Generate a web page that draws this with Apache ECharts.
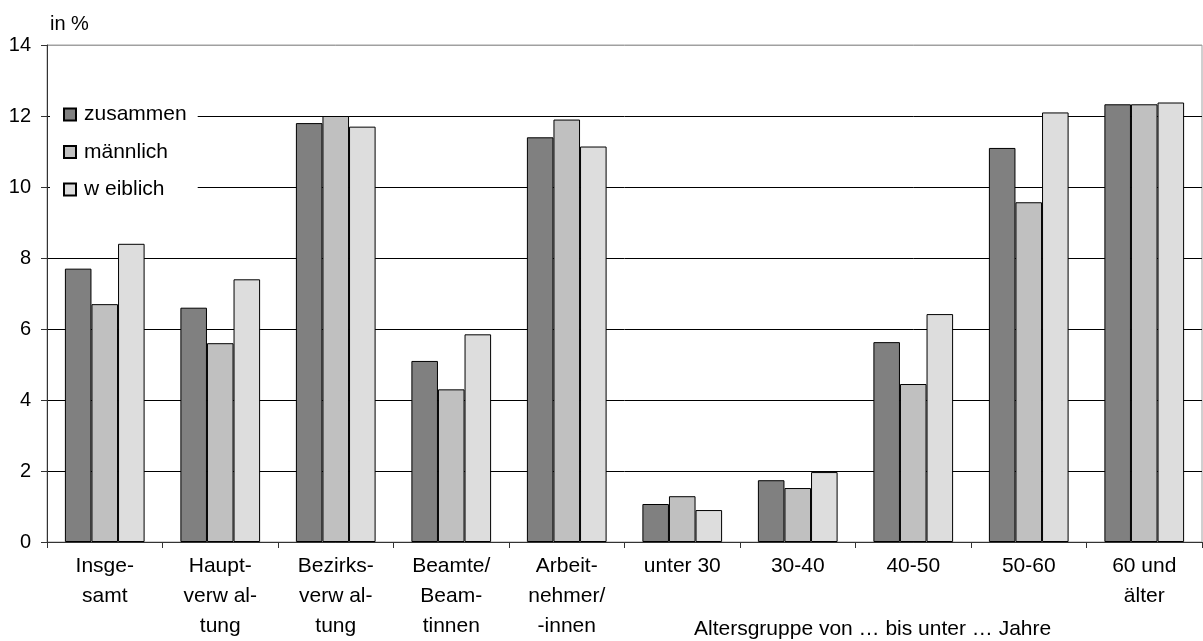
<!DOCTYPE html>
<html>
<head>
<meta charset="utf-8">
<script src="https://cdn.jsdelivr.net/npm/echarts@6/dist/echarts.min.js"></script>
<style>
html,body{margin:0;padding:0;background:#fff;}
#chart{width:1203px;height:641px;}
</style>
</head>
<body>
<div id="chart"></div>
<script>
var categories = ['Insge-\nsamt', 'Haupt-\nverw al-\ntung', 'Bezirks-\nverw al-\ntung', 'Beamte/\nBeam-\ntinnen', 'Arbeit-\nnehmer/\n-innen', 'unter 30', '30-40', '40-50', '50-60', '60 und\nälter'];
var seriesNames = ['zusammen', 'männlich', 'w eiblich'];
var zusammen = [7.7, 6.6, 11.8, 5.1, 11.4, 1.07, 1.74, 5.63, 11.1, 12.33];
var maennlich = [6.7, 5.6, 12.0, 4.3, 11.9, 1.29, 1.52, 4.45, 9.57, 12.33];
var weiblich = [8.4, 7.4, 11.7, 5.85, 11.14, 0.9, 1.97, 6.42, 12.1, 12.38];
var yTicks = [0, 2, 4, 6, 8, 10, 12, 14];
var unitLabel = 'in %';
var groupTitle = 'Altersgruppe von … bis unter … Jahre';

var colors = ['#808080', '#C0C0C0', '#DDDDDD'];
var values = [zusammen, maennlich, weiblich];
var font = 'Arial, "Liberation Sans", sans-serif';

var chart = echarts.init(document.getElementById('chart'), null, {renderer: 'canvas'});
chart.setOption({
  animation: false,
  backgroundColor: '#fff',
  grid: {left: 47, right: 1, top: 45, bottom: 98, show: true, borderColor: '#A0A0A0', borderWidth: 1, backgroundColor: 'transparent'},
  legend: {
    orient: 'vertical', left: 50, top: 99,
    padding: [5, 11, 5, 13],
    backgroundColor: '#fff',
    itemWidth: 12, itemHeight: 12, itemGap: 16.5,
    icon: 'rect',
    textStyle: {fontFamily: font, fontSize: 21, color: '#000', lineHeight: 21, padding: [0, 0, 0, 3]},
    data: seriesNames
  },
  xAxis: {
    type: 'category',
    data: categories,
    axisLine: {show: true, lineStyle: {color: '#333', width: 1}},
    axisTick: {show: true, length: 6, lineStyle: {color: '#333'}},
    axisLabel: {interval: 0, fontFamily: font, fontSize: 21, color: '#000', lineHeight: 30, margin: 9}
  },
  yAxis: {
    type: 'value', min: 0, max: 14, interval: 2,
    axisLine: {show: true, lineStyle: {color: '#333', width: 1}},
    axisTick: {show: true, length: 6, lineStyle: {color: '#333'}},
    axisLabel: {fontFamily: font, fontSize: 20, color: '#000', margin: 16},
    splitLine: {show: true, lineStyle: {color: ['#333', '#000', '#000', '#000', '#000', '#000', '#000', '#A0A0A0'], width: 1}}
  },
  graphic: [
    {type: 'text', left: 50, top: 14, style: {text: unitLabel, fontFamily: font, fontSize: 20, fill: '#000'}},
    {type: 'text', left: 694, top: 619, style: {text: groupTitle, fontFamily: font, fontSize: 21, fill: '#000'}}
  ],
  series: seriesNames.map(function (n, i) {
    return {
      name: n, type: 'bar', data: values[i],
      barGap: '0%', barCategoryGap: '31%',
      itemStyle: {color: colors[i], borderColor: '#000', borderWidth: 1},
      z: 3
    };
  })
});
</script>
</body>
</html>
